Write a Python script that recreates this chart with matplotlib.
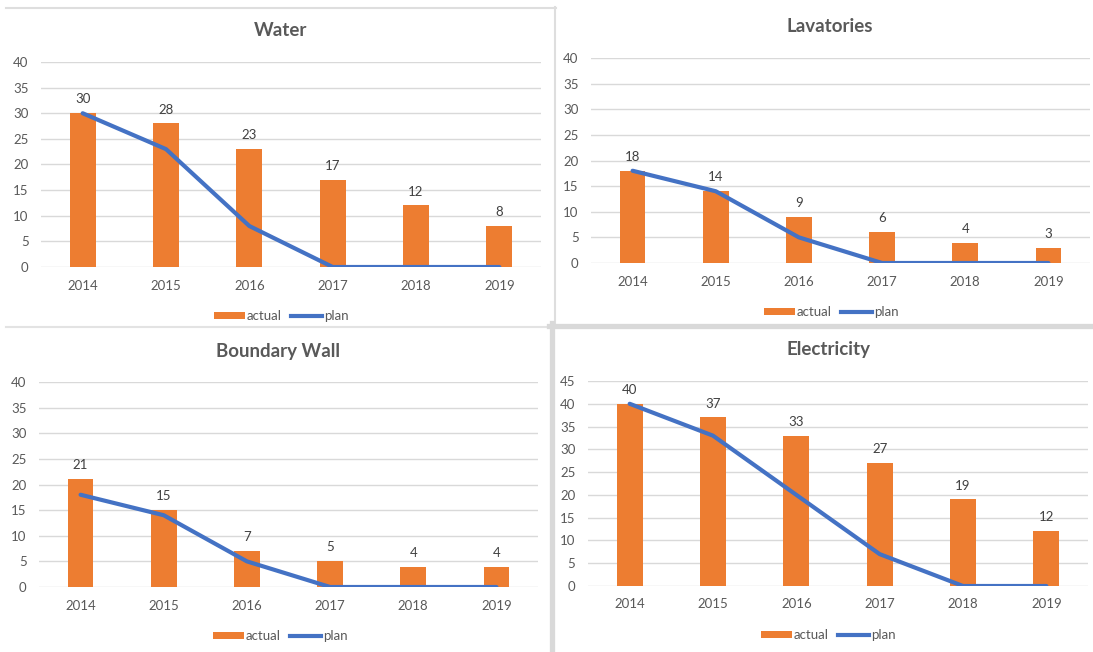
import matplotlib
matplotlib.use('Agg')
import matplotlib.pyplot as plt
from matplotlib.patches import Patch
from matplotlib.lines import Line2D

years = ['2014', '2015', '2016', '2017', '2018', '2019']

water_actual = [30, 28, 23, 17, 12, 8]
water_plan = [30, 23, 8, 0, 0, 0]

lav_actual = [18, 14, 9, 6, 4, 3]
lav_plan = [18, 14, 5, 0, 0, 0]

wall_actual = [21, 15, 7, 5, 4, 4]
wall_plan = [18, 14, 5, 0, 0, 0]

elec_actual = [40, 37, 33, 27, 19, 12]
elec_plan = [40, 33, 20, 7, 0, 0]

ORANGE = '#ED7D31'
BLUE = '#4472C4'
GRID = '#d9d9d9'
TEXT = '#595959'
FS = 9.5

W, H = 1093, 652
plt.rcParams['font.family'] = ['Lato', 'DejaVu Sans']

fig = plt.figure(figsize=(W / 100, H / 100), dpi=100)


def fx(x):
    return x / W


def fy(y):
    return 1 - y / H


def panel(title, actual, plan, box, ymax, title_xy, legend_xy):
    x0, y0, x1, y1 = box
    ax = fig.add_axes([fx(x0), fy(y1), (x1 - x0) / W, (y1 - y0) / H])
    pos = list(range(len(years)))
    ax.bar(pos, actual, width=0.31, color=ORANGE, zorder=2)
    ax.plot(pos, plan, color=BLUE, lw=3, solid_joinstyle='round',
            solid_capstyle='round', zorder=3)
    for p, v in zip(pos, actual):
        ax.annotate(str(v), (p, v), xytext=(0, 10), textcoords='offset points',
                    ha='center', va='center', fontsize=FS, color='#404040')
    ax.set_xlim(-0.5, len(years) - 0.5)
    ax.set_ylim(0, ymax)
    ax.set_yticks(range(0, ymax + 1, 5))
    ax.set_xticks(pos)
    ax.set_xticklabels(years)
    ax.tick_params(length=0, labelsize=FS, labelcolor=TEXT)
    ax.tick_params(axis='x', pad=9)
    ax.tick_params(axis='y', pad=9)
    ax.grid(axis='y', color=GRID, lw=1.0, zorder=0)
    ax.set_axisbelow(True)
    for s in ax.spines.values():
        s.set_visible(False)

    fig.text(fx(title_xy[0]), fy(title_xy[1]), title, ha='center', va='center',
             fontsize=13.5, fontweight='bold', color=TEXT)

    handles = [Patch(facecolor=ORANGE, edgecolor='none'),
               Line2D([], [], color=BLUE, lw=3)]
    fig.legend(handles, ['actual', 'plan'], loc='center',
               bbox_to_anchor=(fx(legend_xy[0]), fy(legend_xy[1])),
               ncol=2, frameon=False, fontsize=FS, labelcolor=TEXT,
               handlelength=2.35, handleheight=0.5, handletextpad=0.15,
               columnspacing=0.7, borderpad=0, borderaxespad=0)
    return ax


panel('Water', water_actual, water_plan, (41, 62, 541, 267), 40,
      (281, 31), (281, 316))
panel('Lavatories', lav_actual, lav_plan, (591, 58, 1090, 263), 40,
      (830, 26), (831, 312))
panel('Boundary Wall', wall_actual, wall_plan, (39, 382, 538, 587), 40,
      (278, 351), (280, 636))
panel('Electricity', elec_actual, elec_plan, (588, 381, 1088, 586), 45,
      (828, 349), (828, 635))

# separators between the four charts
def hline(y, xa, xb, color, lw):
    fig.add_artist(Line2D([fx(xa), fx(xb)], [fy(y), fy(y)], color=color,
                          lw=lw, transform=fig.transFigure))


def vline(x, ya, yb, color, lw):
    fig.add_artist(Line2D([fx(x), fx(x)], [fy(ya), fy(yb)], color=color,
                          lw=lw, transform=fig.transFigure))


hline(7.5, 6, 556, '#dedede', 1.5)
vline(555, 7, 324, '#dedede', 1.5)
hline(326.5, 6, 550, '#e3e3e3', 1.5)
hline(325.5, 549, 1093, '#d9d9d9', 3.8)
vline(551.5, 323, 652, '#d9d9d9', 3.8)

fig.savefig('out.png', dpi=100, facecolor='white')
